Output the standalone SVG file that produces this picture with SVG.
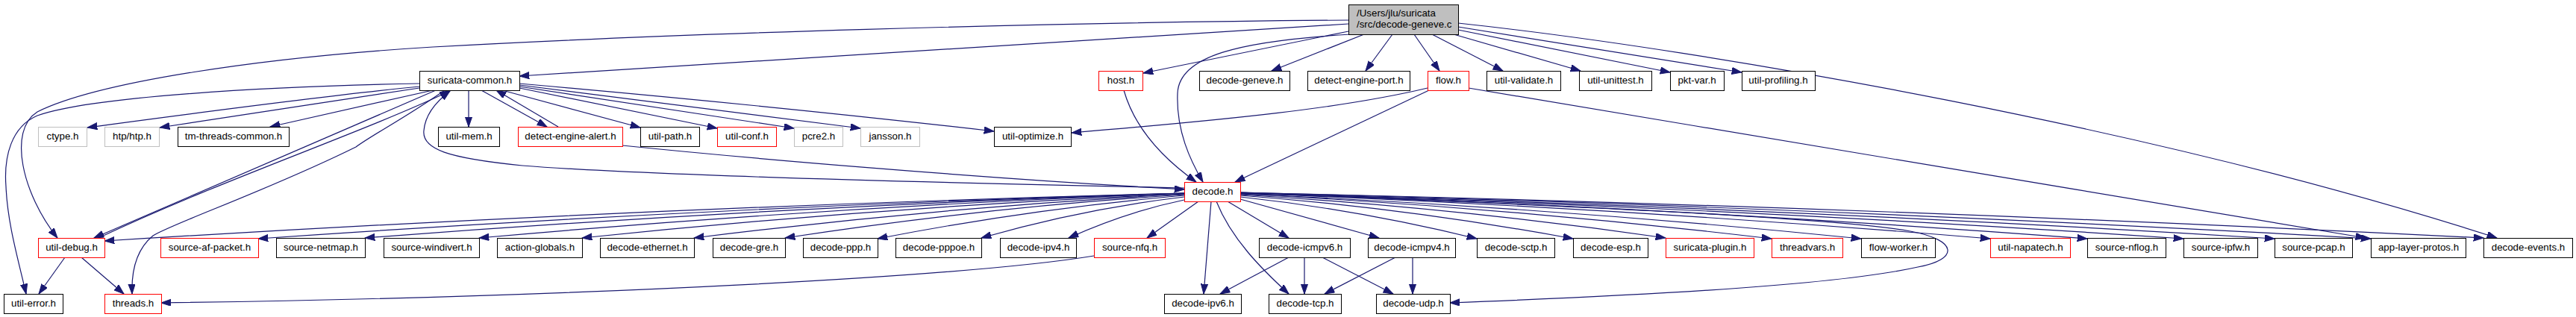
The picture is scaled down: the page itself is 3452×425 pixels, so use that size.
<svg xmlns="http://www.w3.org/2000/svg" width="3452" height="425" viewBox="0 0 3452 425">
<defs>
<style>
.nd rect{fill:#fff;stroke:#000;stroke-width:1}
.nd.r rect{stroke:#ff0000}
.nd.g rect{stroke:#bfbfbf}
.nd.root rect{fill:#bfbfbf;stroke:#000}
.nd text{font-family:"Liberation Sans",Arial,sans-serif;font-size:13.33px;text-anchor:middle;fill:#000}
.nd.root text{text-anchor:start}
#edges path{fill:none;stroke:#191970;stroke-width:1.2;marker-end:url(#ah)}
</style>
<marker id="ah" markerUnits="userSpaceOnUse" markerWidth="14" markerHeight="10" refX="13.3" refY="4.65" orient="auto">
<path d="M0,0 L13.3,4.65 L0,9.3 z" fill="#191970" stroke="#191970" stroke-width="1"/>
</marker>
</defs>
<rect width="3452" height="425" fill="#fff"/>
<g id="edges">
<path d="M1807,27 C1400,30 900,45 580,63 C350,77 130,110 50,150 C10,175 30,260 77,319"/>
<path d="M562,112 C350,116 120,130 50,155 C15,170 5,210 8,250 C10,300 25,350 35,394"/>
<path d="M1807,32 L696,102"/>
<path d="M1810,46 C1660,55 1580,75 1578,125 C1576,175 1595,215 1612,244"/>
<path d="M1807,42 L1532,98"/>
<path d="M1828,46 L1704,95"/>
<path d="M1866,46 L1830,95"/>
<path d="M1895,46 L1929,95"/>
<path d="M1919,46 L2014,95"/>
<path d="M1948,46 L2118,95"/>
<path d="M1954,40 L2238,97"/>
<path d="M1954,36 L2334,97"/>
<path d="M1954,31 C2300,68 2900,175 3346,319"/>
<path d="M1913,118 C1800,145 1650,160 1436,178"/>
<path d="M1915,121 L1655,244"/>
<path d="M1968,118 C2400,190 2900,275 3170,319"/>
<path d="M1506,121 C1520,170 1555,210 1603,244"/>
<path d="M562,116 C420,130 200,160 117,171"/>
<path d="M562,118 C450,135 300,158 214,171"/>
<path d="M580,121 L362,170"/>
<path d="M584,121 L126,319"/>
<path d="M132,319 C300,240 480,180 603,122"/>
<path d="M596,121 C540,160 500,180 477,197 C360,255 230,300 205,316 C182,335 176,365 177,394"/>
<path d="M1587,252 C1400,248 900,238 700,222 C600,212 565,200 568,175 C570,150 590,132 603,122"/>
<path d="M628,121 L628,170"/>
<path d="M645,121 L733,170"/>
<path d="M748,170 L665,121"/>
<path d="M673,121 L858,171"/>
<path d="M696,118 L961,172"/>
<path d="M696,116 L1064,172"/>
<path d="M696,114 L1153,172"/>
<path d="M696,112 C900,130 1150,155 1332,176"/>
<path d="M834,195 C1000,212 1300,238 1587,254"/>
<path d="M87,345 L52,394"/>
<path d="M109,345 L166,394"/>
<path d="M1466,343 C1300,370 800,398 216,406"/>
<path d="M1587,259 Q864,278 140,323"/>
<path d="M1587,259 Q966,277 346,320"/>
<path d="M1587,259 Q1038,277 489,319"/>
<path d="M1587,259 Q1114,277 642,319"/>
<path d="M1587,260 Q1183,277 780,319"/>
<path d="M1587,260 Q1258,278 930,319"/>
<path d="M1587,261 Q1319,278 1052,319"/>
<path d="M1587,262 Q1381,280 1176,320"/>
<path d="M1587,264 Q1451,280 1315,319"/>
<path d="M1587,268 Q1510,284 1432,319"/>
<path d="M1606,270 L1537,319"/>
<path d="M1623,270 L1613,394"/>
<path d="M1630,270 C1650,320 1690,360 1727,394"/>
<path d="M1645,270 L1727,319"/>
<path d="M1662,267 L1848,319"/>
<path d="M1662,264 Q1820,281 1979,320"/>
<path d="M1662,262 Q1885,279 2108,320"/>
<path d="M1662,261 Q1947,278 2232,319"/>
<path d="M1662,260 Q2018,278 2374,320"/>
<path d="M1662,260 Q2078,278 2494,320"/>
<path d="M1662,259 Q2164,278 2667,320"/>
<path d="M1662,259 Q2229,277 2797,320"/>
<path d="M1662,259 Q2293,277 2926,320"/>
<path d="M1662,259 Q2355,277 3048,320"/>
<path d="M1662,258 Q2419,277 3177,320"/>
<path d="M1662,258 Q2494,277 3328,319"/>
<path d="M1662,258 C2000,272 2450,290 2560,310 C2625,322 2625,348 2570,358 C2450,385 2150,398 1943,406"/>
<path d="M1727,345 L1635,394"/>
<path d="M1748,345 L1748,394"/>
<path d="M1772,345 L1867,394"/>
<path d="M1870,345 L1775,394"/>
<path d="M1893,345 L1893,394"/>
</g>
<g id="n_root" class="nd root"><rect x="1807.5" y="6.5" width="147" height="40"/><text x="1818" y="22">/Users/jlu/suricata</text><text x="1818" y="37">/src/decode-geneve.c</text></g>
<g id="n_suricata_common" class="nd"><rect x="562.5" y="95.5" width="134" height="26"/><text x="629.5" y="112">suricata-common.h</text></g>
<g id="n_host" class="nd r"><rect x="1472.5" y="95.5" width="59" height="26"/><text x="1502" y="112">host.h</text></g>
<g id="n_decode_geneve" class="nd"><rect x="1607.5" y="95.5" width="121" height="26"/><text x="1668" y="112">decode-geneve.h</text></g>
<g id="n_detect_engine_port" class="nd"><rect x="1752.5" y="95.5" width="137" height="26"/><text x="1821" y="112">detect-engine-port.h</text></g>
<g id="n_flow" class="nd r"><rect x="1913.5" y="95.5" width="55" height="26"/><text x="1941" y="112">flow.h</text></g>
<g id="n_util_validate" class="nd"><rect x="1992.5" y="95.5" width="99" height="26"/><text x="2042" y="112">util-validate.h</text></g>
<g id="n_util_unittest" class="nd"><rect x="2116.5" y="95.5" width="97" height="26"/><text x="2165" y="112">util-unittest.h</text></g>
<g id="n_pkt_var" class="nd"><rect x="2238.5" y="95.5" width="72" height="26"/><text x="2274" y="112">pkt-var.h</text></g>
<g id="n_util_profiling" class="nd"><rect x="2334.5" y="95.5" width="98" height="26"/><text x="2383" y="112">util-profiling.h</text></g>
<g id="n_ctype" class="nd g"><rect x="51.5" y="170.5" width="65" height="26"/><text x="84" y="187">ctype.h</text></g>
<g id="n_htp" class="nd g"><rect x="140.5" y="170.5" width="73" height="26"/><text x="177" y="187">htp/htp.h</text></g>
<g id="n_tm_threads_common" class="nd"><rect x="238.5" y="170.5" width="149" height="26"/><text x="313" y="187">tm-threads-common.h</text></g>
<g id="n_util_mem" class="nd"><rect x="587.5" y="170.5" width="82" height="26"/><text x="628.5" y="187">util-mem.h</text></g>
<g id="n_detect_engine_alert" class="nd r"><rect x="694.5" y="170.5" width="140" height="26"/><text x="764.5" y="187">detect-engine-alert.h</text></g>
<g id="n_util_path" class="nd"><rect x="858.5" y="170.5" width="79" height="26"/><text x="898" y="187">util-path.h</text></g>
<g id="n_util_conf" class="nd r"><rect x="961.5" y="170.5" width="79" height="26"/><text x="1001" y="187">util-conf.h</text></g>
<g id="n_pcre2" class="nd g"><rect x="1064.5" y="170.5" width="65" height="26"/><text x="1097" y="187">pcre2.h</text></g>
<g id="n_jansson" class="nd g"><rect x="1153.5" y="170.5" width="79" height="26"/><text x="1193" y="187">jansson.h</text></g>
<g id="n_util_optimize" class="nd"><rect x="1332.5" y="170.5" width="103" height="26"/><text x="1384" y="187">util-optimize.h</text></g>
<g id="n_decode" class="nd r"><rect x="1587.5" y="244.5" width="75" height="26"/><text x="1625" y="261">decode.h</text></g>
<g id="n_util_debug" class="nd r"><rect x="51.5" y="319.5" width="89" height="26"/><text x="96" y="336">util-debug.h</text></g>
<g id="n_source_af_packet" class="nd r"><rect x="215.5" y="319.5" width="131" height="26"/><text x="281" y="336">source-af-packet.h</text></g>
<g id="n_source_netmap" class="nd"><rect x="370.5" y="319.5" width="119" height="26"/><text x="430" y="336">source-netmap.h</text></g>
<g id="n_source_windivert" class="nd"><rect x="514.5" y="319.5" width="128" height="26"/><text x="578.5" y="336">source-windivert.h</text></g>
<g id="n_action_globals" class="nd"><rect x="666.5" y="319.5" width="114" height="26"/><text x="723.5" y="336">action-globals.h</text></g>
<g id="n_decode_ethernet" class="nd"><rect x="804.5" y="319.5" width="126" height="26"/><text x="867.5" y="336">decode-ethernet.h</text></g>
<g id="n_decode_gre" class="nd"><rect x="955.5" y="319.5" width="97" height="26"/><text x="1004" y="336">decode-gre.h</text></g>
<g id="n_decode_ppp" class="nd"><rect x="1076.5" y="319.5" width="100" height="26"/><text x="1126.5" y="336">decode-ppp.h</text></g>
<g id="n_decode_pppoe" class="nd"><rect x="1200.5" y="319.5" width="115" height="26"/><text x="1258" y="336">decode-pppoe.h</text></g>
<g id="n_decode_ipv4" class="nd"><rect x="1340.5" y="319.5" width="102" height="26"/><text x="1391.5" y="336">decode-ipv4.h</text></g>
<g id="n_source_nfq" class="nd r"><rect x="1466.5" y="319.5" width="95" height="26"/><text x="1514" y="336">source-nfq.h</text></g>
<g id="n_decode_icmpv6" class="nd"><rect x="1687.5" y="319.5" width="122" height="26"/><text x="1748.5" y="336">decode-icmpv6.h</text></g>
<g id="n_decode_icmpv4" class="nd"><rect x="1833.5" y="319.5" width="117" height="26"/><text x="1892" y="336">decode-icmpv4.h</text></g>
<g id="n_decode_sctp" class="nd"><rect x="1979.5" y="319.5" width="104" height="26"/><text x="2031.5" y="336">decode-sctp.h</text></g>
<g id="n_decode_esp" class="nd"><rect x="2108.5" y="319.5" width="100" height="26"/><text x="2158.5" y="336">decode-esp.h</text></g>
<g id="n_suricata_plugin" class="nd r"><rect x="2232.5" y="319.5" width="118" height="26"/><text x="2291.5" y="336">suricata-plugin.h</text></g>
<g id="n_threadvars" class="nd r"><rect x="2374.5" y="319.5" width="95" height="26"/><text x="2422" y="336">threadvars.h</text></g>
<g id="n_flow_worker" class="nd"><rect x="2494.5" y="319.5" width="99" height="26"/><text x="2544" y="336">flow-worker.h</text></g>
<g id="n_util_napatech" class="nd r"><rect x="2667.5" y="319.5" width="107" height="26"/><text x="2721" y="336">util-napatech.h</text></g>
<g id="n_source_nflog" class="nd"><rect x="2797.5" y="319.5" width="105" height="26"/><text x="2850" y="336">source-nflog.h</text></g>
<g id="n_source_ipfw" class="nd"><rect x="2926.5" y="319.5" width="99" height="26"/><text x="2976" y="336">source-ipfw.h</text></g>
<g id="n_source_pcap" class="nd"><rect x="3048.5" y="319.5" width="104" height="26"/><text x="3100.5" y="336">source-pcap.h</text></g>
<g id="n_app_layer_protos" class="nd"><rect x="3177.5" y="319.5" width="127" height="26"/><text x="3241" y="336">app-layer-protos.h</text></g>
<g id="n_decode_events" class="nd"><rect x="3328.5" y="319.5" width="119" height="26"/><text x="3388" y="336">decode-events.h</text></g>
<g id="n_util_error" class="nd"><rect x="5.5" y="394.5" width="79" height="26"/><text x="45" y="411">util-error.h</text></g>
<g id="n_threads" class="nd r"><rect x="140.5" y="394.5" width="76" height="26"/><text x="178.5" y="411">threads.h</text></g>
<g id="n_decode_ipv6" class="nd"><rect x="1560.5" y="394.5" width="103" height="26"/><text x="1612" y="411">decode-ipv6.h</text></g>
<g id="n_decode_tcp" class="nd"><rect x="1700.5" y="394.5" width="97" height="26"/><text x="1749" y="411">decode-tcp.h</text></g>
<g id="n_decode_udp" class="nd"><rect x="1844.5" y="394.5" width="99" height="26"/><text x="1894" y="411">decode-udp.h</text></g>
</svg>
